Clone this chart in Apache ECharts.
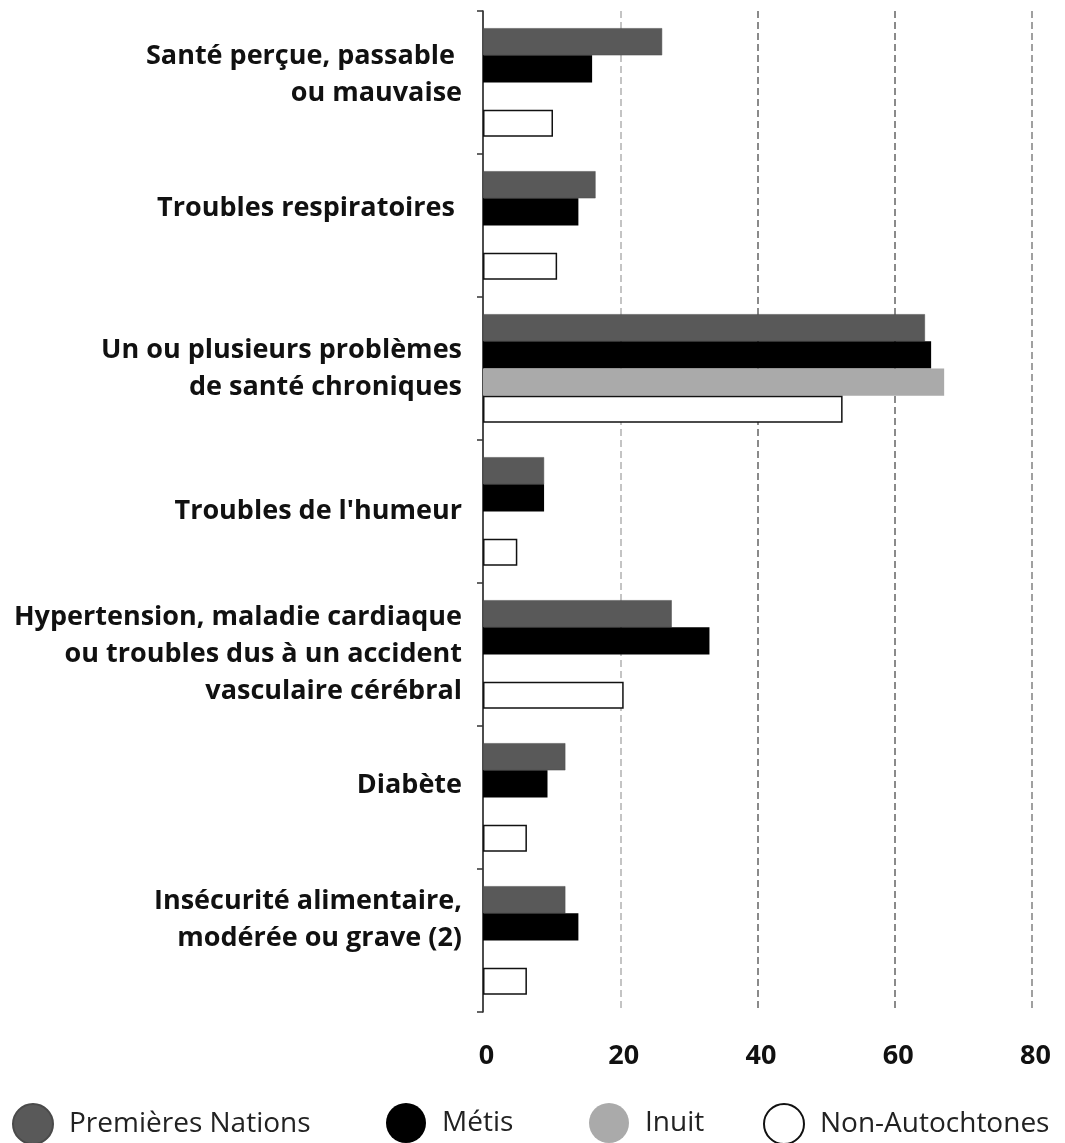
<!DOCTYPE html>
<html>
<head>
<meta charset="utf-8">
<script src="https://cdn.jsdelivr.net/npm/echarts@6/dist/echarts.min.js"></script>
<style>
html,body{margin:0;padding:0;background:#fff;}
#chart{width:1065px;height:1143px;}
</style>
</head>
<body>
<div id="chart"></div>
<script>
const categories = [
  "Santé perçue, passable \nou mauvaise",
  "Troubles respiratoires ",
  "Un ou plusieurs problèmes\nde santé chroniques",
  "Troubles de l'humeur",
  "Hypertension, maladie cardiaque\nou troubles dus à un accident\nvasculaire cérébral",
  "Diabète",
  "Insécurité alimentaire,\nmodérée ou grave (2)"
];
const seriesNames = ["Premières Nations", "Métis", "Inuit", "Non-Autochtones"];
const premieresNations = [26.1, 16.4, 64.4, 8.9, 27.5, 12.0, 12.0];
const metis = [15.9, 13.9, 65.3, 8.9, 33.0, 9.4, 13.9];
const inuit = [null, null, 67.2, null, null, null, null];
const nonAutochtones = [10.2, 10.8, 52.4, 5.0, 20.5, 6.4, 6.4];
const xTicks = [0, 20, 40, 60, 80];

// layout only: extra blank space under each label (shifts label upward by half)
const labelSpacer = [15, 35, 0, 0, 0, 25, 41];

const FONT = '"Open Sans", "Noto Sans", sans-serif';
const chart = echarts.init(document.getElementById('chart'), null, {renderer: 'canvas'});

const legendBase = {
  top: 1103,
  padding: 0,
  itemWidth: 40,
  itemHeight: 40,
  icon: 'circle',
  textStyle: {fontFamily: FONT, fontSize: 28, color: '#222', padding: [2, 0, 0, 11]},
  selectedMode: false
};

const rich = {
  b: {fontFamily: FONT, fontSize: 27, fontWeight: 'bold', color: '#111', lineHeight: 37, align: 'right'}
};
labelSpacer.forEach(function (h, i) {
  rich['s' + i] = {fontSize: 1, lineHeight: h, align: 'right'};
});

const option = {
  animation: false,
  backgroundColor: '#fff',
  grid: {left: 483, right: 33, top: 11, bottom: 131, containLabel: false},
  legend: [
    Object.assign({}, legendBase, {left: 12, data: [seriesNames[0]]}),
    Object.assign({}, legendBase, {left: 386, data: [seriesNames[1]]}),
    Object.assign({}, legendBase, {left: 589, data: [seriesNames[2]]}),
    Object.assign({}, legendBase, {left: 763, data: [seriesNames[3]]})
  ],
  xAxis: {
    type: 'value',
    min: xTicks[0],
    max: xTicks[xTicks.length - 1],
    interval: 20,
    axisLine: {show: false},
    axisTick: {show: false},
    axisLabel: {
      fontFamily: FONT, fontSize: 27, fontWeight: 'bold', color: '#111', margin: 31,
      padding: [0, 0, 0, 7]
    },
    splitLine: {
      show: true,
      lineStyle: {type: [7, 4], width: 2, color: ['#fff', '#c4c4c4', '#8a8a8a', '#8a8a8a', '#a0a0a0']}
    }
  },
  yAxis: {
    type: 'category',
    inverse: true,
    data: categories,
    axisLine: {show: true, lineStyle: {color: '#111', width: 1.5}},
    axisTick: {show: true, length: 6, lineStyle: {color: '#333', width: 1.5}},
    axisLabel: {
      fontFamily: FONT, fontSize: 27, fontWeight: 'bold', color: '#111',
      lineHeight: 37, margin: 21, align: 'right',
      formatter: function (value, index) {
        const lines = value.split('\n').map(function (l) { return '{b|' + l + '}'; });
        if (labelSpacer[index] > 0) lines.push('{s' + index + '| }');
        return lines.join('\n');
      },
      rich: rich
    },
    splitLine: {show: false}
  },
  series: [
    {
      name: seriesNames[0], type: 'bar', data: premieresNations,
      barGap: '0%', barCategoryGap: '24%',
      itemStyle: {color: '#595959', borderColor: '#4a4a4a', borderWidth: 0.5}
    },
    {
      name: seriesNames[1], type: 'bar', data: metis,
      barGap: '0%', barCategoryGap: '24%',
      itemStyle: {color: '#000000'}
    },
    {
      name: seriesNames[2], type: 'bar', data: inuit,
      barGap: '0%', barCategoryGap: '24%',
      itemStyle: {color: '#aaaaaa'}
    },
    {
      name: seriesNames[3], type: 'bar', data: nonAutochtones,
      barGap: '0%', barCategoryGap: '24%',
      itemStyle: {color: '#ffffff', borderColor: '#111', borderWidth: 1.5}
    }
  ]
};
chart.setOption(option);
</script>
</body>
</html>
